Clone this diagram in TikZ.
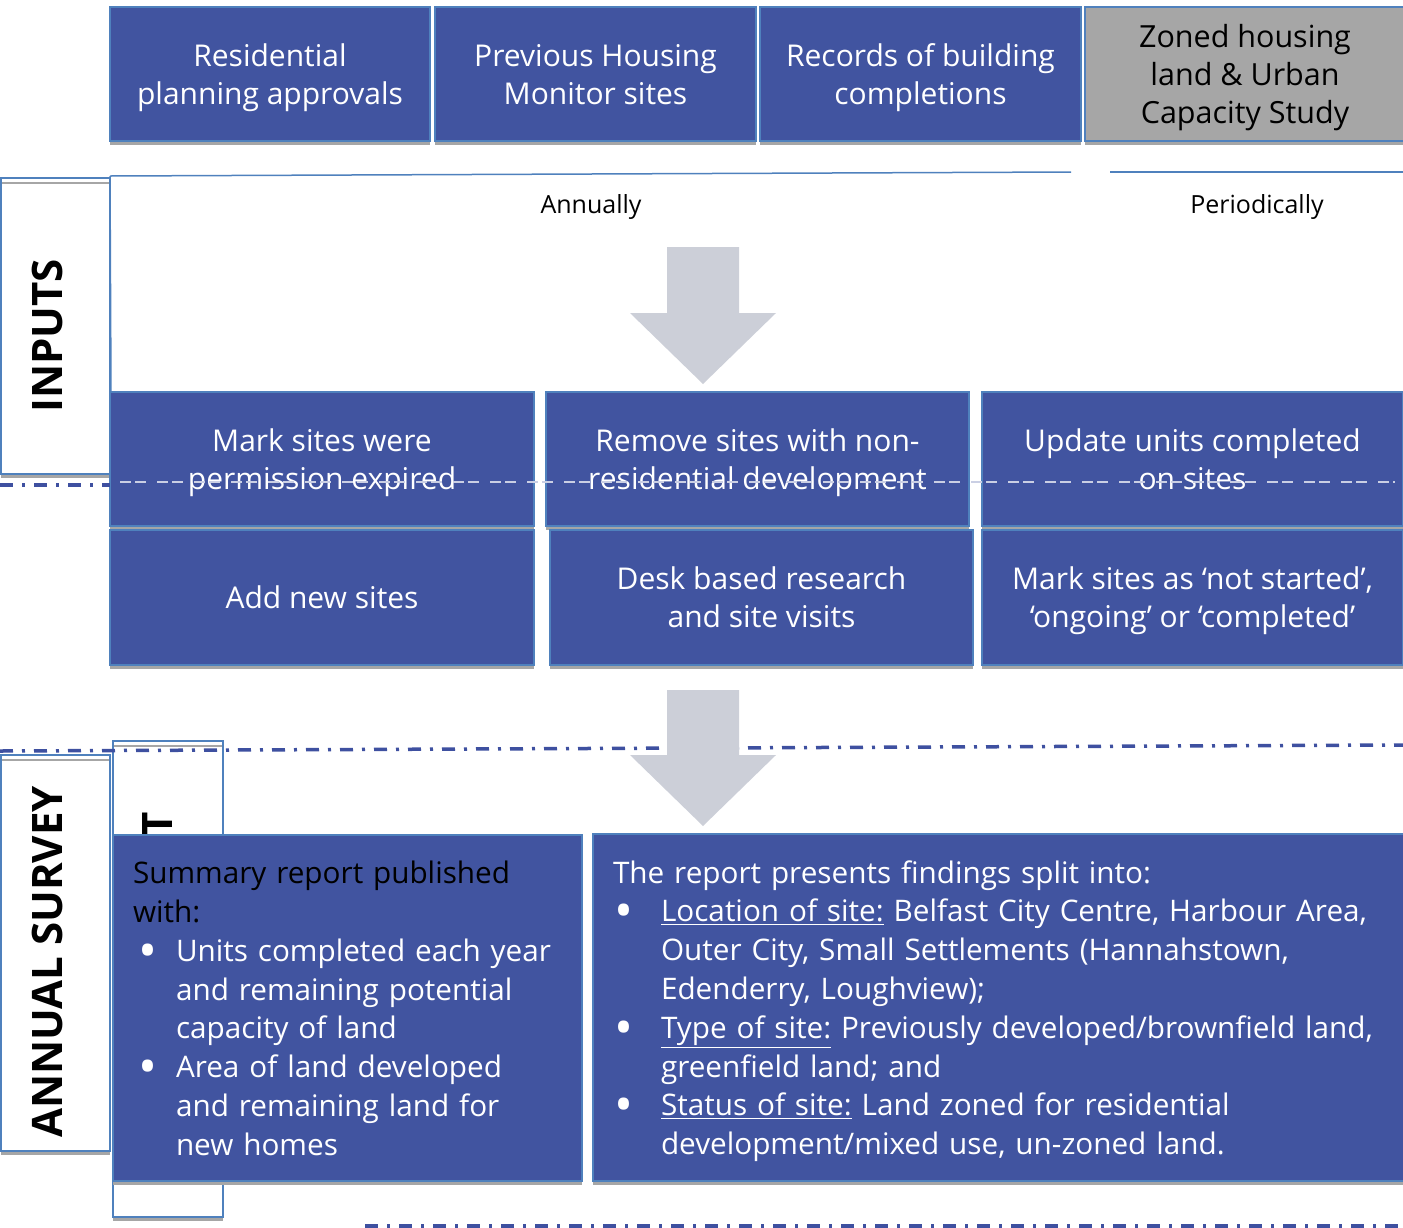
\documentclass[tikz,border=0pt]{standalone}
\usepackage{fontspec}
\setmainfont{Open Sans}
\usetikzlibrary{shadows}
\definecolor{boxblue}{RGB}{65,84,160}
\definecolor{bordblue}{RGB}{79,129,189}
\definecolor{shadowgrey}{RGB}{166,166,166}
\definecolor{arrowgrey}{RGB}{204,207,216}
\definecolor{dashblue}{RGB}{62,80,160}
\definecolor{greybox}{RGB}{166,166,166}
\newcommand{\bigbul}{\smash{\raisebox{-7pt}{\scalebox{1.7}{\textbullet}}}}
\newcommand{\vsA}{\rule[-8pt]{0pt}{38pt}}
\newcommand{\vsB}{\rule[-8pt]{0pt}{38.8pt}}
\begin{document}
\begin{tikzpicture}[x=1pt,y=-1pt,
  every node/.style={inner sep=0pt, outer sep=0pt},
  boxbase/.style={draw=bordblue, line width=1.5pt, anchor=north west,
    drop shadow={shadow xshift=0pt, shadow yshift=-4pt, fill=shadowgrey, opacity=1}},
  bluebox/.style={boxbase, fill=boxblue, text=white, align=center,
    font=\fontsize{30}{38}\selectfont},
  greyboxs/.style={boxbase, fill=greybox, text=black, align=center,
    font=\fontsize{30.5}{38}\selectfont},
  textbox/.style={boxbase, fill=boxblue, text=white, align=left,
    font=\fontsize{29.7}{38.8}\selectfont, execute at begin node=\vsB, execute at end node=\vsB},
  sidebox/.style={boxbase, fill=white},
  sidelabel/.style={rotate=90, font=\fontsize{42}{42}\selectfont\bfseries, text=black},
  freq/.style={font=\fontsize{25}{29}\selectfont, text=black},
  thinline/.style={draw=bordblue, line width=1.5pt},
  innergrey/.style={draw=shadowgrey, line width=2pt},
  bigarrow/.style={fill=arrowgrey},
  dashdot/.style={draw=dashblue, line width=3.5pt, dash pattern=on 13pt off 9pt on 3pt off 9pt},
  lightdash/.style={draw=white!72!boxblue, line width=1.5pt, dash pattern=on 11pt off 4pt on 11pt off 11pt}
]
\useasboundingbox (0,0) rectangle (1403,1227);

% top row
\node[bluebox, minimum width=320pt, minimum height=134pt] (resid) at (110,7) {\vsA Residential\\planning approvals\vsA};
\node[bluebox, minimum width=321pt, minimum height=134pt] (prev) at (435,7) {\vsA Previous Housing\\Monitor sites\vsA};
\node[bluebox, minimum width=321pt, minimum height=134pt] (recs) at (760,7) {\vsA Records of building\\completions\vsA};
\node[greyboxs, minimum width=320pt, minimum height=134pt] (zoned) at (1085,7) {\vsA Zoned housing\\land \& Urban\\Capacity Study\vsA};

% frequency brackets
\coordinate (annL) at (110,176);
\coordinate (annR) at (1071,172);
\coordinate (perL) at (1110,172);
\coordinate (perR) at (1403,172);
\coordinate (annB) at (111,392);
\draw[thinline] (annL) -- (annR);
\draw[thinline] (perL) -- (perR);
\draw[thinline] (annL) -- (annB);
\node[freq] (annually) at (591,207) {Annually};
\node[freq] (periodically) at (1257,207) {Periodically};

% inputs side box
\node[sidebox, minimum width=109pt, minimum height=296pt] (inputs) at (1,178) {};
\draw[innergrey] ([xshift=1pt,yshift=-5pt]inputs.north west) -- ([xshift=-1pt,yshift=-5pt]inputs.north east);
\node[sidelabel] (inputslbl) at (47,336) {INPUTS};

% arrow 1
\fill[bigarrow] (667,247) -- (739,247) -- (739,313) -- (776,313) -- (703,384) -- (630,313) -- (667,313) -- cycle;

% middle rows
\node[bluebox, minimum width=424pt, minimum height=134pt] (mark) at (110,392) {\vsA Mark sites were\\permission expired\vsA};
\node[bluebox, minimum width=423pt, minimum height=134pt] (remove) at (546,392) {\vsA Remove sites with non-\\residential development\vsA};
\node[bluebox, minimum width=421pt, minimum height=134pt] (update) at (982,392) {\vsA Update units completed\\on sites\vsA};
\node[bluebox, minimum width=424pt, minimum height=135pt] (add) at (110,530) {\vsA Add new sites\vsA};
\node[bluebox, minimum width=423pt, minimum height=135pt] (desk) at (550,530) {\vsA Desk based research\\and site visits\vsA};
\node[bluebox, minimum width=421pt, minimum height=135pt] (marksites) at (982,530) {\vsA Mark sites as ‘not started’,\\‘ongoing’ or ‘completed’\vsA};

% divider line across the inputs area
\coordinate (d1a) at (0,485);
\coordinate (d1b) at (110,485);
\coordinate (d1c) at (120,482);
\coordinate (d1d) at (1395,482);
\draw[dashdot] (d1a) -- (d1b);
\draw[lightdash] (d1c) -- (d1d);

% annual survey side box and partly hidden box
\node[sidebox, minimum width=109pt, minimum height=396pt] (annual) at (1,755) {};
\draw[innergrey] ([xshift=1pt,yshift=-5pt]annual.north west) -- ([xshift=-1pt,yshift=-5pt]annual.north east);
\node[sidelabel] (annuallbl) at (47,962) {ANNUAL SURVEY};
\node[sidebox, minimum width=110pt, minimum height=476pt] (tbox) at (113,741) {};
\draw[innergrey] ([xshift=1pt,yshift=-5pt]tbox.north west) -- ([xshift=-1pt,yshift=-5pt]tbox.north east);
\node[sidelabel, anchor=east] (tlbl) at (158,812) {T};

% second divider
\coordinate (d2a) at (0,751);
\coordinate (d2b) at (1403,745);
\draw[dashdot] (d2a) -- (d2b);

% arrow 2
\fill[bigarrow] (667,690) -- (739,690) -- (739,755) -- (776,755) -- (703,826) -- (630,755) -- (667,755) -- cycle;

% output boxes
\node[textbox, minimum width=469pt, minimum height=346pt, text width=429pt] (summary) at (113,835) {%
{\color{black}Summary report published\\with:}\\
\makebox[43pt][l]{\hspace{5pt}\bigbul}Units completed each year\\
\hspace*{43pt}and remaining potential\\
\hspace*{43pt}capacity of land\\
\makebox[43pt][l]{\hspace{5pt}\bigbul}Area of land developed\\
\hspace*{43pt}and remaining land for\\
\hspace*{43pt}new homes};

\node[textbox, minimum width=822pt, minimum height=347pt, text width=782pt] (findings) at (593,834) {%
The report presents findings split into:\\
\makebox[48pt][l]{\hspace{1pt}\bigbul}\underline{Location of site:} Belfast City Centre, Harbour Area,\\
\hspace*{48pt}Outer City, Small Settlements (Hannahstown,\\
\hspace*{48pt}Edenderry, Loughview);\\
\makebox[48pt][l]{\hspace{1pt}\bigbul}\underline{Type of site:} Previously developed/brownfield land,\\
\hspace*{48pt}greenfield land; and\\
\makebox[48pt][l]{\hspace{1pt}\bigbul}\underline{Status of site:} Land zoned for residential\\
\hspace*{48pt}development/mixed use, un-zoned land.};

% bottom divider
\coordinate (d3a) at (365,1226);
\coordinate (d3b) at (1403,1226);
\draw[dashdot] (d3a) -- (d3b);
\end{tikzpicture}
\end{document}
